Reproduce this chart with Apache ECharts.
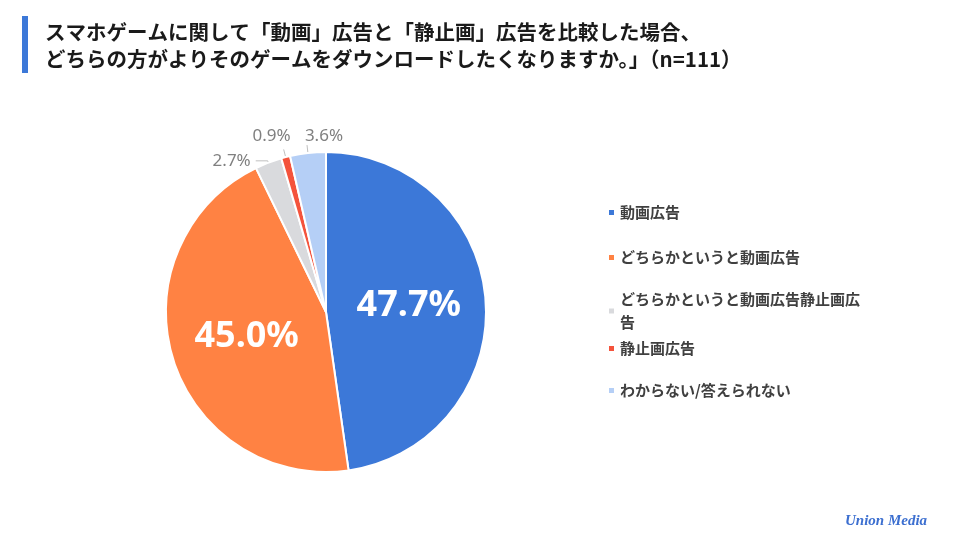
<!DOCTYPE html>
<html><head><meta charset="utf-8">
<script src="https://cdn.jsdelivr.net/npm/echarts@6/dist/echarts.min.js"></script>
<style>html,body{margin:0;padding:0;background:#fff}#c{width:960px;height:539px}</style>
</head><body><div id="c"></div>
<script>
const categories = ['動画広告','どちらかというと動画広告','どちらかというと動画広告静止画広告','静止画広告','わからない/答えられない'];
const values = [47.7, 45.0, 2.7, 0.9, 3.6];
const colors = ['#3C78D8','#FF8243','#D9DADD','#F4533C','#B5CFF6'];
const titleLines = ['スマホゲームに関して「動画」広告と「静止画」広告を比較した場合、','どちらの方がよりそのゲームをダウンロードしたくなりますか。」（n=111）'];
const logoText = 'Union Media';

const FONT = '"Noto Sans CJK JP","Noto Sans",sans-serif';
const chart = echarts.init(document.getElementById('c'), null, {renderer:'canvas'});

const insideLabel = {show:true, position:'inside', fontSize:36, fontWeight:'bold', color:'#fff', fontFamily:'"Noto Sans",sans-serif',
  formatter: p => p.value.toFixed(1) + '%'};
const outsideLabel = {show:true, position:'outside', fontSize:17, color:'#808080', fontFamily:'"Noto Sans",sans-serif',
  formatter: p => p.value.toFixed(1) + '%'};
const lineCfg = [null, null, {length:2, length2:12}, {length:8, length2:0}, {length:8, length2:0}];
const labelShift = [null, null, [0, 0], [12, -13], [41, -9]];

const legendTops = [202, 247, 288, 338, 380];
const legends = categories.map((c,i)=>({
  data:[c], orient:'vertical', left:607, top:legendTops[i], padding:0, selectedMode:false,
  icon:'rect', itemWidth:7, itemHeight:7, itemGap:0,
  textStyle:{fontSize:15, fontWeight:'bold', color:'#404040', fontFamily:FONT, width:245, overflow:'break', lineHeight: i===2?23:21}
}));

chart.setOption({
  animation:false,
  backgroundColor:'#fff',
  title:{text:titleLines.join('\n'), left:45, top:19, padding:0,
    textStyle:{fontSize:20.5, fontWeight:'bold', color:'#1a1a1a', fontFamily:FONT, lineHeight:27}},
  legend: legends,
  graphic:[
    {type:'rect', shape:{x:22, y:16, width:6, height:57}, style:{fill:'#3C78D8'}},
    {type:'text', left:845, top:514, style:{text:logoText, font:'italic bold 15px "Liberation Serif"', fill:'#3C6FD0'}}
  ],
  series:[{
    type:'pie', center:[326,312], radius:[0,160], startAngle:90, clockwise:true,
    avoidLabelOverlap:false, silent:true,
    itemStyle:{borderColor:'#fff', borderWidth:2},
    labelLine:{lineStyle:{color:'#bfbfbf', width:1}},
    labelLayout: p => {
      const s = labelShift[p.dataIndex];
      return s ? {dx:s[0], dy:s[1]} : {};
    },
    data: values.map((v,i)=>({
      name:categories[i], value:v, itemStyle:{color:colors[i]},
      label: i<2 ? insideLabel : outsideLabel,
      labelLine: i<2 ? {show:false} : Object.assign({show:true, smooth:false}, lineCfg[i])
    }))
  }]
});
</script></body></html>
